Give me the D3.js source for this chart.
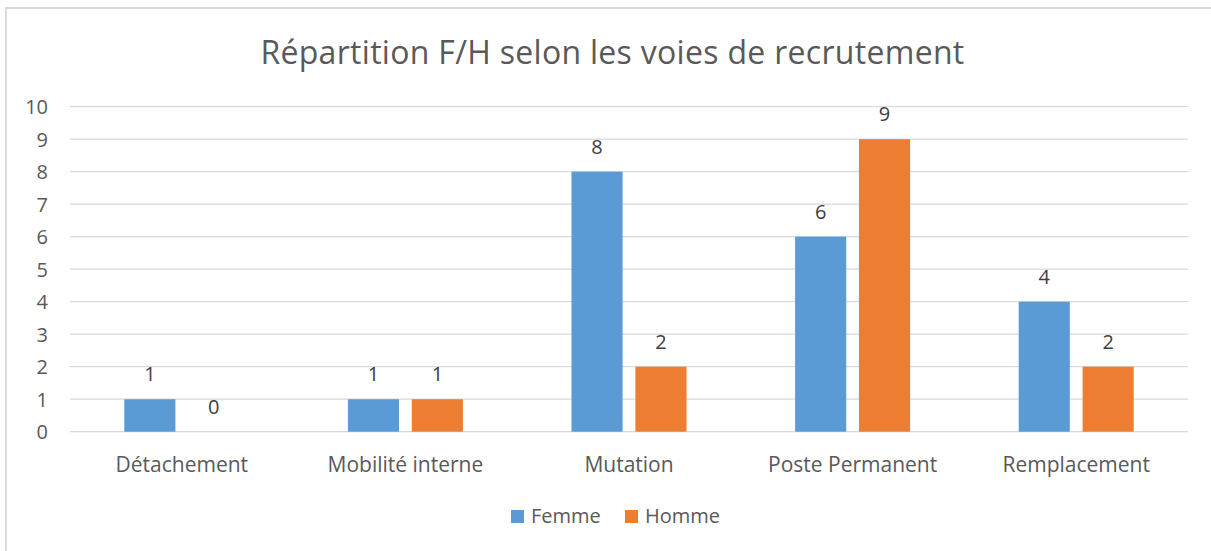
<!DOCTYPE html>
<html><head><meta charset="utf-8">
<script src="https://cdn.jsdelivr.net/npm/d3@7"></script>
<style>body{margin:0;background:#fff;}svg{display:block;font-family:"Open Sans",sans-serif;}</style>
</head><body><svg id="c" width="1211" height="551"></svg>
<script>
const categories = ["Détachement","Mobilité interne","Mutation","Poste Permanent","Remplacement"];
const seriesNames = ["Femme","Homme"];
const femme = [1,1,8,6,4];
const homme = [0,1,2,9,2];
const yTicks = [0,1,2,3,4,5,6,7,8,9,10];
const colors = ["#5B9BD5","#ED7D31"];
const title = "Répartition F/H selon les voies de recrutement";

const svg = d3.select("#c");
svg.append("rect").attr("x",6).attr("y",8).attr("width",1220).attr("height",560)
  .attr("fill","#fff").attr("stroke","#d9d9d9").attr("stroke-width",2);

const pLeft=70, pRight=1188, pTop=106.7, pBottom=431.7;
const x = d3.scaleBand().domain(categories).range([pLeft,pRight]).paddingInner(0).paddingOuter(0);
const inner = d3.scaleBand().domain(seriesNames).range([54.3, x.bandwidth()-54.3]).paddingInner(0.2).paddingOuter(0);
const y = d3.scaleLinear().domain([0,10]).range([pBottom,pTop]);

svg.append("text").attr("x",612.5).attr("y",64).attr("text-anchor","middle")
  .attr("font-size",32).attr("letter-spacing",0.3).attr("fill","#595959").text(title);

// gridlines
svg.append("g").selectAll("line").data(yTicks).join("line")
  .attr("x1",pLeft).attr("x2",pRight).attr("y1",d=>y(d)).attr("y2",d=>y(d))
  .attr("stroke","#d9d9d9").attr("stroke-width",1.3);

// y axis labels
const yAxis = d3.axisLeft(y).tickValues(yTicks).tickSize(0).tickPadding(0).tickFormat(d3.format("d"));
const ya = svg.append("g").attr("transform","translate(48,0)").call(yAxis);
ya.select(".domain").remove();
ya.selectAll("text").attr("font-size",20).attr("fill","#595959").attr("font-family","Open Sans").attr("dy","0.36em");

// x axis labels
const xAxis = d3.axisBottom(x).tickSize(0).tickPadding(0);
const xa = svg.append("g").attr("transform","translate(0,"+pBottom+")").call(xAxis);
xa.select(".domain").remove();
xa.selectAll("text").attr("font-size",21).attr("fill","#595959").attr("font-family","Open Sans").attr("dy",null).attr("y",40);

const data = [femme, homme];
data.forEach((vals,si)=>{
  const g = svg.append("g");
  g.selectAll("rect").data(vals).join("rect")
    .attr("x",(d,i)=>x(categories[i])+inner(seriesNames[si]))
    .attr("width",inner.bandwidth())
    .attr("y",d=>y(d)).attr("height",d=>y(0)-y(d))
    .attr("fill",colors[si]);
  g.selectAll("text").data(vals).join("text")
    .attr("x",(d,i)=>x(categories[i])+inner(seriesNames[si])+inner.bandwidth()/2)
    .attr("y",d=>y(d)-18).attr("text-anchor","middle")
    .attr("font-size",20).attr("fill","#404040").text(d=>d);
});

// legend
const leg = svg.append("g");
const legX = [511,625];
seriesNames.forEach((s,i)=>{
  leg.append("rect").attr("x",legX[i]).attr("y",510).attr("width",13).attr("height",13).attr("fill",colors[i]);
  leg.append("text").attr("x",legX[i]+20).attr("y",523).attr("font-size",20).attr("fill","#595959").text(s);
});
</script></body></html>
